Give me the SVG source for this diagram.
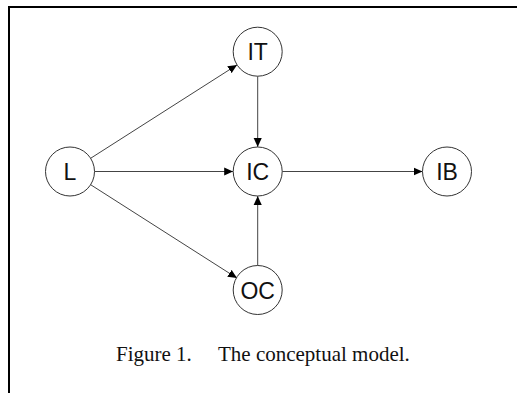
<svg xmlns="http://www.w3.org/2000/svg" width="517" height="393" viewBox="0 0 517 393">
<style>
.node circle{fill:#fff;stroke:#333;stroke-width:1}
.node text{font-family:"Liberation Sans",Arial,sans-serif;font-size:23px;fill:#111;text-anchor:middle}
.edge{stroke:#444;stroke-width:1;fill:none;marker-end:url(#ah)}
.cap{font-family:"Liberation Serif","Times New Roman",serif;font-size:21px;fill:#111}
</style>
<defs>
<marker id="ah" viewBox="0 0 10 10" refX="10" refY="5" markerWidth="9" markerHeight="9" markerUnits="userSpaceOnUse" orient="auto">
<path d="M0,0.5 L10,5 L0,9.5 Z" fill="#000"/>
</marker>
</defs>
<rect width="517" height="393" fill="#fff"/>
<path d="M9,393 V7 H517" fill="none" stroke="#000" stroke-width="2"/>
<g id="connectors">
<line class="edge" x1="90.6" y1="158.3" x2="237" y2="64.9"/>
<line class="edge" x1="94.5" y1="171.5" x2="233.2" y2="171.5"/>
<line class="edge" x1="90.6" y1="184.7" x2="237" y2="278.1"/>
<line class="edge" x1="257.7" y1="76.2" x2="257.7" y2="147"/>
<line class="edge" x1="257.7" y1="265.5" x2="257.7" y2="196"/>
<line class="edge" x1="282.2" y1="171.5" x2="422.5" y2="171.5"/>
</g>
<g id="L" class="node"><circle cx="70" cy="171.5" r="24.5"/><text x="70" y="180">L</text></g>
<g id="IT" class="node"><circle cx="257.7" cy="51.7" r="24.5"/><text x="257.7" y="60">IT</text></g>
<g id="IC" class="node"><circle cx="257.7" cy="171.5" r="24.5"/><text x="257.7" y="180">IC</text></g>
<g id="OC" class="node"><circle cx="257.7" cy="290" r="24.5"/><text x="257.7" y="298.5">OC</text></g>
<g id="IB" class="node"><circle cx="447" cy="171.5" r="24.5"/><text x="447" y="180">IB</text></g>
<text class="cap" x="116" y="361">Figure 1.</text>
<text class="cap" x="218" y="361">The conceptual model.</text>
</svg>
